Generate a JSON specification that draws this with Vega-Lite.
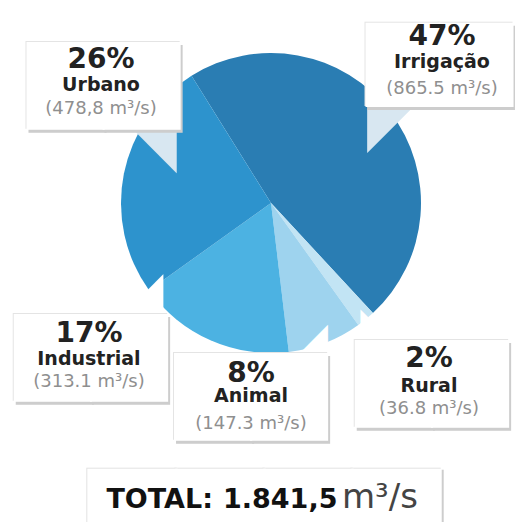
{
  "$schema": "https://vega.github.io/schema/vega-lite/v6.json",
  "width": 488,
  "height": 406,
  "autosize": {"type": "none"},
  "padding": {"left": 27, "top": 0, "right": 0, "bottom": 116},
  "background": "white",
  "config": {
    "view": {"stroke": null},
    "text": {"font": "DejaVu Sans"},
    "locale": {"number": {"decimal": ",", "thousands": ".", "grouping": [3], "currency": ["R$ ", ""]}}
  },
  "data": {
    "values": [
      {"cat": "Irrigação", "ord": 1, "value": 865.5, "pct": "47%", "label": "(865.5 m³/s)"},
      {"cat": "Rural", "ord": 2, "value": 36.8, "pct": "2%", "label": "(36.8 m³/s)"},
      {"cat": "Animal", "ord": 3, "value": 147.3, "pct": "8%", "label": "(147.3 m³/s)"},
      {"cat": "Industrial", "ord": 4, "value": 313.1, "pct": "17%", "label": "(313.1 m³/s)"},
      {"cat": "Urbano", "ord": 5, "value": 478.8, "pct": "26%", "label": "(478,8 m³/s)"}
    ]
  },
  "layer": [
    {
      "encoding": {
        "theta": {"field": "value", "type": "quantitative", "stack": true, "scale": {"range": [-0.5585, 5.7247]}},
        "order": {"field": "ord", "type": "quantitative"},
        "detail": {"field": "cat", "type": "nominal"}
      },
      "layer": [
        {
          "mark": {"type": "arc", "outerRadius": 150},
          "encoding": {
            "color": {"field": "cat", "type": "nominal", "legend": null,
              "scale": {"domain": ["Irrigação", "Rural", "Animal", "Industrial", "Urbano"], "range": ["#2a7db3", "#c2e4f4", "#9ed3ee", "#4cb2e2", "#2d93cd"]}}
          }
        },

        {"mark": {"type": "text", "radius": 190, "dx": 69.9, "dy": 0, "align": "center", "baseline": "alphabetic", "fontSize": 58, "color": "#d8e7f1"},
         "encoding": {"text": {"condition": {"test": "datum.ord === 5", "value": "◥"}, "value": ""}}},
        {"mark": {"type": "text", "radius": 190, "dx": 20.9, "dy": -58.5, "align": "center", "baseline": "alphabetic", "fontSize": 99, "color": "#cdcdcd"},
         "encoding": {"text": {"condition": {"test": "datum.ord === 5", "value": "▆▆"}, "value": ""}}},
        {"mark": {"type": "text", "radius": 190, "dx": 17.9, "dy": -62.5, "align": "center", "baseline": "alphabetic", "fontSize": 99, "color": "#e4e4e4"},
         "encoding": {"text": {"condition": {"test": "datum.ord === 5", "value": "▆▆"}, "value": ""}}},
        {"mark": {"type": "text", "radius": 190, "dx": 18.9, "dy": -61.5, "align": "center", "baseline": "alphabetic", "fontSize": 99, "color": "#ffffff"},
         "encoding": {"text": {"condition": {"test": "datum.ord === 5", "value": "▆▆"}, "value": ""}}},
        {"mark": {"type": "text", "radius": 190, "dx": 16.4, "dy": -98.1, "align": "center", "baseline": "alphabetic", "fontSize": 28, "fontWeight": "bold", "color": "#222222"},
         "encoding": {"text": {"condition": {"test": "datum.ord === 5", "field": "pct", "type": "nominal"}, "value": ""}}},
        {"mark": {"type": "text", "radius": 190, "dx": 16.4, "dy": -75.1, "align": "center", "baseline": "alphabetic", "fontSize": 19, "fontWeight": "bold", "color": "#222222"},
         "encoding": {"text": {"condition": {"test": "datum.ord === 5", "field": "cat", "type": "nominal"}, "value": ""}}},
        {"mark": {"type": "text", "radius": 190, "dx": 16.4, "dy": -52.1, "align": "center", "baseline": "alphabetic", "fontSize": 18, "color": "#8f8f8f"},
         "encoding": {"text": {"condition": {"test": "datum.ord === 5", "field": "label", "type": "nominal"}, "value": ""}}},

        {"mark": {"type": "text", "radius": 222, "dx": -58.4, "dy": 78, "align": "center", "baseline": "alphabetic", "fontSize": 57, "color": "#d8e7f1"},
         "encoding": {"text": {"condition": {"test": "datum.ord === 1", "value": "◤"}, "value": ""}}},
        {"mark": {"type": "text", "radius": 222, "dx": -6.4, "dy": 17.4, "align": "center", "baseline": "alphabetic", "fontSize": 95, "color": "#cdcdcd"},
         "encoding": {"text": {"condition": {"test": "datum.ord === 1", "value": "▆▆"}, "value": ""}}},
        {"mark": {"type": "text", "radius": 222, "dx": -8.9, "dy": 13.4, "align": "center", "baseline": "alphabetic", "fontSize": 95, "color": "#e4e4e4"},
         "encoding": {"text": {"condition": {"test": "datum.ord === 1", "value": "▆▆"}, "value": ""}}},
        {"mark": {"type": "text", "radius": 222, "dx": -7.9, "dy": 14.4, "align": "center", "baseline": "alphabetic", "fontSize": 95, "color": "#ffffff"},
         "encoding": {"text": {"condition": {"test": "datum.ord === 1", "value": "▆▆"}, "value": ""}}},
        {"mark": {"type": "text", "radius": 222, "dx": -5.4, "dy": -23.2, "align": "center", "baseline": "alphabetic", "fontSize": 28, "fontWeight": "bold", "color": "#222222"},
         "encoding": {"text": {"condition": {"test": "datum.ord === 1", "field": "pct", "type": "nominal"}, "value": ""}}},
        {"mark": {"type": "text", "radius": 222, "dx": -5.4, "dy": -0.2, "align": "center", "baseline": "alphabetic", "fontSize": 19, "fontWeight": "bold", "color": "#222222"},
         "encoding": {"text": {"condition": {"test": "datum.ord === 1", "field": "cat", "type": "nominal"}, "value": ""}}},
        {"mark": {"type": "text", "radius": 222, "dx": -5.4, "dy": 25.8, "align": "center", "baseline": "alphabetic", "fontSize": 18, "color": "#8f8f8f"},
         "encoding": {"text": {"condition": {"test": "datum.ord === 1", "field": "label", "type": "nominal"}, "value": ""}}},

        {"mark": {"type": "text", "radius": 237, "dx": -48.3, "dy": -57, "align": "center", "baseline": "alphabetic", "fontSize": 32, "color": "#ffffff"},
         "encoding": {"text": {"condition": {"test": "datum.ord === 2", "value": "◣"}, "value": ""}}},
        {"mark": {"type": "text", "radius": 237, "dx": 13.2, "dy": 18.9, "align": "center", "baseline": "alphabetic", "fontSize": 99, "color": "#cdcdcd"},
         "encoding": {"text": {"condition": {"test": "datum.ord === 2", "value": "▆▆"}, "value": ""}}},
        {"mark": {"type": "text", "radius": 237, "dx": 10.2, "dy": 14.9, "align": "center", "baseline": "alphabetic", "fontSize": 99, "color": "#e4e4e4"},
         "encoding": {"text": {"condition": {"test": "datum.ord === 2", "value": "▆▆"}, "value": ""}}},
        {"mark": {"type": "text", "radius": 237, "dx": 11.2, "dy": 15.9, "align": "center", "baseline": "alphabetic", "fontSize": 99, "color": "#ffffff"},
         "encoding": {"text": {"condition": {"test": "datum.ord === 2", "value": "▆▆"}, "value": ""}}},
        {"mark": {"type": "text", "radius": 237, "dx": 8.2, "dy": -19.7, "align": "center", "baseline": "alphabetic", "fontSize": 28, "fontWeight": "bold", "color": "#222222"},
         "encoding": {"text": {"condition": {"test": "datum.ord === 2", "field": "pct", "type": "nominal"}, "value": ""}}},
        {"mark": {"type": "text", "radius": 237, "dx": 8.2, "dy": 5.3, "align": "center", "baseline": "alphabetic", "fontSize": 19, "fontWeight": "bold", "color": "#222222"},
         "encoding": {"text": {"condition": {"test": "datum.ord === 2", "field": "cat", "type": "nominal"}, "value": ""}}},
        {"mark": {"type": "text", "radius": 237, "dx": 8.2, "dy": 27.3, "align": "center", "baseline": "alphabetic", "fontSize": 18, "color": "#8f8f8f"},
         "encoding": {"text": {"condition": {"test": "datum.ord === 2", "field": "label", "type": "nominal"}, "value": ""}}},

        {"mark": {"type": "text", "radius": 172, "dx": -19.2, "dy": -15, "align": "center", "baseline": "alphabetic", "fontSize": 36, "color": "#ffffff"},
         "encoding": {"text": {"condition": {"test": "datum.ord === 3", "value": "◢"}, "value": ""}}},
        {"mark": {"type": "text", "radius": 172, "dx": -80.2, "dy": 55.7, "align": "center", "baseline": "alphabetic", "fontSize": 99, "color": "#cdcdcd"},
         "encoding": {"text": {"condition": {"test": "datum.ord === 3", "value": "▆▆"}, "value": ""}}},
        {"mark": {"type": "text", "radius": 172, "dx": -83.2, "dy": 51.7, "align": "center", "baseline": "alphabetic", "fontSize": 99, "color": "#e4e4e4"},
         "encoding": {"text": {"condition": {"test": "datum.ord === 3", "value": "▆▆"}, "value": ""}}},
        {"mark": {"type": "text", "radius": 172, "dx": -82.2, "dy": 52.7, "align": "center", "baseline": "alphabetic", "fontSize": 99, "color": "#ffffff"},
         "encoding": {"text": {"condition": {"test": "datum.ord === 3", "value": "▆▆"}, "value": ""}}},
        {"mark": {"type": "text", "radius": 172, "dx": -82.2, "dy": 18.6, "align": "center", "baseline": "alphabetic", "fontSize": 28, "fontWeight": "bold", "color": "#222222"},
         "encoding": {"text": {"condition": {"test": "datum.ord === 3", "field": "pct", "type": "nominal"}, "value": ""}}},
        {"mark": {"type": "text", "radius": 172, "dx": -82.2, "dy": 38.6, "align": "center", "baseline": "alphabetic", "fontSize": 19, "fontWeight": "bold", "color": "#222222"},
         "encoding": {"text": {"condition": {"test": "datum.ord === 3", "field": "cat", "type": "nominal"}, "value": ""}}},
        {"mark": {"type": "text", "radius": 172, "dx": -82.2, "dy": 65.6, "align": "center", "baseline": "alphabetic", "fontSize": 18, "color": "#8f8f8f"},
         "encoding": {"text": {"condition": {"test": "datum.ord === 3", "field": "label", "type": "nominal"}, "value": ""}}},

        {"mark": {"type": "text", "radius": 213, "dx": -41.1, "dy": -91, "align": "center", "baseline": "alphabetic", "fontSize": 51, "color": "#ffffff"},
         "encoding": {"text": {"condition": {"test": "datum.ord === 4", "value": "◢"}, "value": ""}}},
        {"mark": {"type": "text", "radius": 213, "dx": -92.1, "dy": -18.3, "align": "center", "baseline": "alphabetic", "fontSize": 99, "color": "#cdcdcd"},
         "encoding": {"text": {"condition": {"test": "datum.ord === 4", "value": "▆▆"}, "value": ""}}},
        {"mark": {"type": "text", "radius": 213, "dx": -95.1, "dy": -22.3, "align": "center", "baseline": "alphabetic", "fontSize": 99, "color": "#e4e4e4"},
         "encoding": {"text": {"condition": {"test": "datum.ord === 4", "value": "▆▆"}, "value": ""}}},
        {"mark": {"type": "text", "radius": 213, "dx": -94.1, "dy": -21.3, "align": "center", "baseline": "alphabetic", "fontSize": 99, "color": "#ffffff"},
         "encoding": {"text": {"condition": {"test": "datum.ord === 4", "value": "▆▆"}, "value": ""}}},
        {"mark": {"type": "text", "radius": 213, "dx": -96.1, "dy": -55.9, "align": "center", "baseline": "alphabetic", "fontSize": 28, "fontWeight": "bold", "color": "#222222"},
         "encoding": {"text": {"condition": {"test": "datum.ord === 4", "field": "pct", "type": "nominal"}, "value": ""}}},
        {"mark": {"type": "text", "radius": 213, "dx": -96.1, "dy": -32.9, "align": "center", "baseline": "alphabetic", "fontSize": 19, "fontWeight": "bold", "color": "#222222"},
         "encoding": {"text": {"condition": {"test": "datum.ord === 4", "field": "cat", "type": "nominal"}, "value": ""}}},
        {"mark": {"type": "text", "radius": 213, "dx": -96.1, "dy": -10.9, "align": "center", "baseline": "alphabetic", "fontSize": 18, "color": "#8f8f8f"},
         "encoding": {"text": {"condition": {"test": "datum.ord === 4", "field": "label", "type": "nominal"}, "value": ""}}}
      ]
    },
    {
      "transform": [{"aggregate": [{"op": "sum", "field": "value", "as": "total"}]}],
      "layer": [
        {"mark": {"type": "text", "align": "center", "baseline": "alphabetic", "dx": -4.5, "dy": 306, "fontSize": 114.5, "color": "#cdcdcd"},
         "encoding": {"text": {"value": "▄▄▄▄"}}},
        {"mark": {"type": "text", "align": "center", "baseline": "alphabetic", "dx": -7.5, "dy": 304, "fontSize": 114.5, "color": "#e2e2e2"},
         "encoding": {"text": {"value": "▄▄▄▄"}}},
        {"mark": {"type": "text", "align": "center", "baseline": "alphabetic", "dx": -6.5, "dy": 305, "fontSize": 114.5, "color": "#ffffff"},
         "encoding": {"text": {"value": "▄▄▄▄"}}},
        {"mark": {"type": "text", "align": "right", "baseline": "alphabetic", "dx": -58, "dy": 305, "fontSize": 27, "fontWeight": "bold", "color": "#111111"},
         "encoding": {"text": {"value": "TOTAL:"}}},
        {"mark": {"type": "text", "align": "left", "baseline": "alphabetic", "dx": -48, "dy": 305, "fontSize": 27, "fontWeight": "bold", "color": "#111111"},
         "encoding": {"text": {"field": "total", "type": "quantitative", "format": ",.1f"}}},
        {"mark": {"type": "text", "align": "left", "baseline": "alphabetic", "dx": 71, "dy": 305, "fontSize": 34, "color": "#444444"},
         "encoding": {"text": {"value": "m³/s"}}}
      ]
    }
  ]
}
